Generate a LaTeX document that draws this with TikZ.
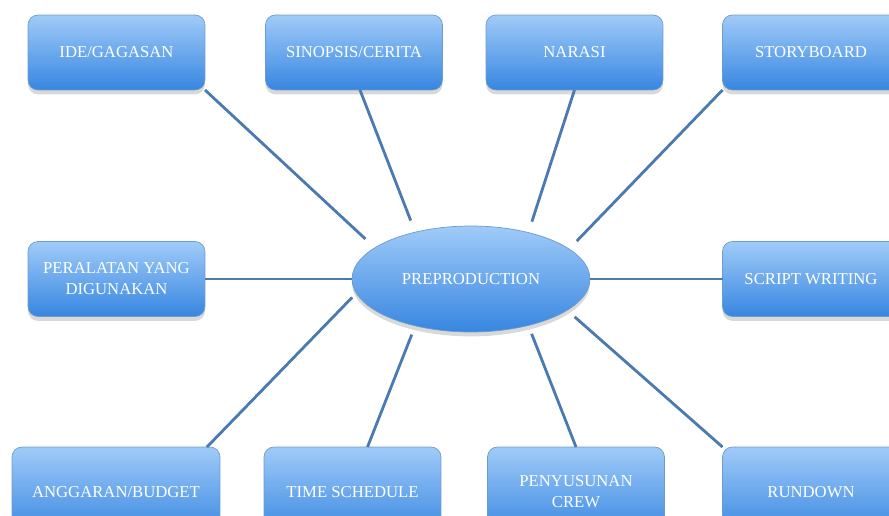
\documentclass[tikz,border=0pt]{standalone}
\usepackage{fontspec}
\setmainfont{Liberation Serif}
\usetikzlibrary{shapes.geometric,shadows}
\definecolor{boxtop}{RGB}{160,203,248}
\definecolor{boxbot}{RGB}{55,134,225}
\definecolor{boxline}{RGB}{110,155,205}
\definecolor{spokeblue}{RGB}{74,122,176}

\begin{document}
\begin{tikzpicture}[x=0.02cm, y=-0.02cm,
  item/.style={rectangle, rounded corners=0.2cm, draw=boxline, thin,
    top color=boxtop, bottom color=boxbot, text=white, align=center,
    minimum width=3.54cm, minimum height=1.5cm, outer sep=0pt,
    font=\fontsize{9.5}{12}\selectfont,
    drop shadow={opacity=0.3, shadow xshift=0pt, shadow yshift=-2.5pt}},
  hub/.style={ellipse, draw=boxline, thin, top color=boxtop, bottom color=boxbot,
    text=white, minimum width=4.76cm, minimum height=2.12cm, inner sep=0pt,
    outer sep=0pt, font=\fontsize{9.5}{12}\selectfont,
    drop shadow={opacity=0.3, shadow xshift=0pt, shadow yshift=-2.5pt}},
  spoke/.style={draw=spokeblue, line width=1.6pt}]
\useasboundingbox (0,0) rectangle (889,516);
\clip (0,0) rectangle (889,516);

\node[hub] (pre) at (471,279) {PREPRODUCTION};

% top row
\node[item] (ide) at (116.5,52.5) {IDE/GAGASAN};
\node[item] (sinopsis) at (354,52.5) {SINOPSIS/CERITA};
\node[item] (narasi) at (574.5,52.5) {NARASI};
\node[item] (storyboard) at (811,52.5) {STORYBOARD};

% middle row
\node[item] (peralatan) at (116.5,279) {PERALATAN YANG\\DIGUNAKAN};
\node[item] (script) at (811,279) {SCRIPT WRITING};

% bottom row, cut off by the page edge
\node[item, minimum width=4.16cm, minimum height=1.8cm] (anggaran) at (116,492) {ANGGARAN/BUDGET};
\node[item, minimum height=1.8cm] (schedule) at (352.5,492) {TIME SCHEDULE};
\node[item, minimum height=1.8cm] (crew) at (576,492) {PENYUSUNAN\\CREW};
\node[item, minimum height=1.8cm] (rundown) at (811,492) {RUNDOWN};

\draw[spoke, shorten >=0.26cm] (ide.south east) -- (pre.162);
\draw[spoke, shorten >=0.25cm] ([xshift=0.12cm]sinopsis.south) -- (pre.140);
\draw[spoke, shorten >=0.23cm] (narasi.south) -- (pre.39);
\draw[spoke, shorten >=0.22cm] (storyboard.south west) -- (pre.17);
\draw[spoke] (peralatan.east) -- (pre.west);
\draw[spoke] (pre.east) -- (script.west);
\draw[spoke, shorten >=0.12cm] ([xshift=-0.26cm]anggaran.north east) -- (pre.187);
\draw[spoke, shorten >=0.19cm] ([xshift=0.3cm]schedule.north) -- (pre.220);
\draw[spoke, shorten >=0.18cm] (crew.north) -- (pre.321);
\draw[spoke, shorten >=0.2cm] (rundown.north west) -- (pre.342);

\end{tikzpicture}
\end{document}
